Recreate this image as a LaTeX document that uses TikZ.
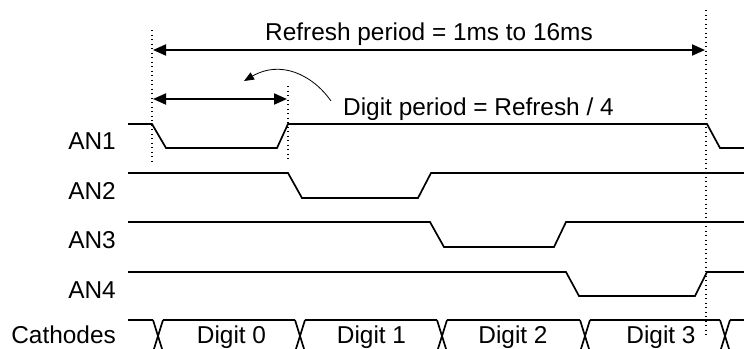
\documentclass[tikz,border=0pt]{standalone}
\usepackage{fontspec}
\setmainfont{Liberation Sans}
\usetikzlibrary{arrows.meta}
\begin{document}
\begin{tikzpicture}[x=1pt,y=-1pt,
  sig/.style={line width=1.7pt,line join=miter},
  dim/.style={line width=1.8pt,{Triangle[length=13pt,width=11pt]}-{Triangle[length=13pt,width=11pt]}},
  note/.style={line width=0.8pt,-{Triangle[length=10pt,width=8pt]}},
  guide/.style={line width=1.1pt,dash pattern=on 1.1pt off 3.4pt},
  lbl/.style={font=\fontsize{24.4}{29}\selectfont,inner sep=0pt},
  signame/.style={lbl,anchor=base east}]
\useasboundingbox (0,0) rectangle (744,348);
\clip (0,0) rectangle (744,348);
\fill[white] (0,0) rectangle (744,348);

% guide lines
\coordinate (g0t) at (152,30);  \coordinate (g0b) at (152,162);
\coordinate (g1t) at (288,86);  \coordinate (g1b) at (288,162);
\coordinate (g2t) at (706,10);  \coordinate (g2b) at (706,335);
\draw[guide] (g0t) -- (g0b);
\draw[guide] (g1t) -- (g1b);
\draw[guide] (g2t) -- (g2b);

% refresh period
\coordinate (r0) at (153,50); \coordinate (r1) at (705,50);
\draw[dim] (r0) -- (r1);
\node[lbl,anchor=base] (reftxt) at (429,40.5) {Refresh period = 1ms to 16ms};

% digit period
\coordinate (d0) at (153,99); \coordinate (d1) at (287,99);
\draw[dim] (d0) -- (d1);
\node[lbl,anchor=base west] (digtxt) at (343,115) {Digit period = Refresh / 4};
\coordinate (c0) at (331,101); \coordinate (c1) at (244,81);
\draw[note] (c0) .. controls (312,74) and (280,60) .. (c1);

% signal names
\node[signame] (an1) at (116,149) {AN1};
\node[signame] (an2) at (116,199) {AN2};
\node[signame] (an3) at (116,248) {AN3};
\node[signame] (an4) at (116,298) {AN4};
\node[signame] (cat) at (116,343) {Cathodes};

% waveforms
\draw[sig] (128,124) -- (152,124) -- (166,148) -- (277,148) -- (288,124) -- (707,124) -- (720,148) -- (744,148);
\draw[sig] (128,173) -- (288,173) -- (302,198) -- (418,198) -- (431,173) -- (744,173);
\draw[sig] (128,222) -- (430,222) -- (444,247) -- (554,247) -- (566,222) -- (744,222);
\draw[sig] (128,272) -- (566,272) -- (579,296) -- (695,296) -- (707,272) -- (744,272);

% cathode bus
\draw[sig] (128,320) -- (153,320);
\foreach \a/\b in {163/295,305/437,447/580,590/720,730/744}{
  \draw[sig] (\a,320) -- (\b,320);
}
\foreach \c in {158,300,442,585,725}{
  \draw[sig] (\c-5,320) -- (\c+5,352);
  \draw[sig] (\c+5,320) -- (\c-5,352);
}
\node[lbl,anchor=base] (dg0) at (231.5,343) {Digit 0};
\node[lbl,anchor=base] (dg1) at (371.5,343) {Digit 1};
\node[lbl,anchor=base] (dg2) at (513,343) {Digit 2};
\node[lbl,anchor=base] (dg3) at (661,343) {Digit 3};
\end{tikzpicture}
\end{document}
